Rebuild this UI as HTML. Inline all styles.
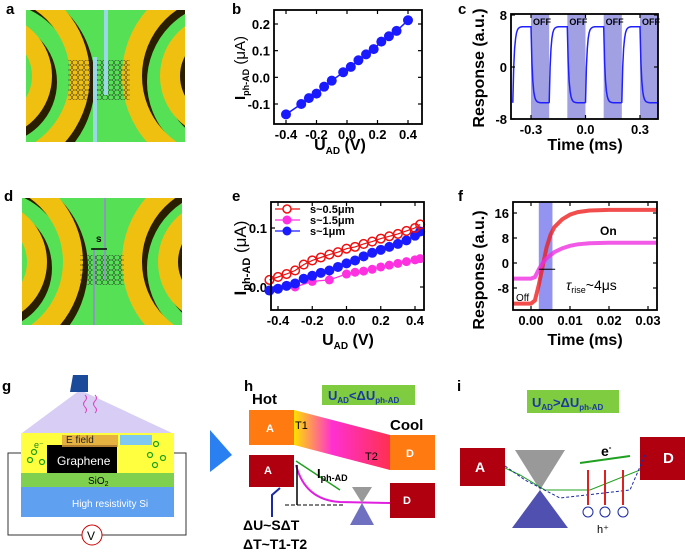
<!DOCTYPE html>
<html><head><meta charset="utf-8"><style>
body{margin:0;background:#fff}
svg{display:block;font-family:"Liberation Sans",sans-serif}
.tk{font-size:13px;font-weight:bold}
.at{font-size:16px;font-weight:bold}
.pl{font-size:15px;font-weight:bold}
</style></head><body>
<svg id="fig" width="685" height="553" viewBox="0 0 685 553">
<defs>
<clipPath id="ca"><rect x="26" y="10" width="159" height="132"/></clipPath>
<clipPath id="cd"><rect x="22" y="198" width="160" height="127"/></clipPath>
<pattern id="hex" width="6" height="5" patternUnits="userSpaceOnUse"><path d="M0 2.5 L1.5 0 L4.5 0 L6 2.5 L4.5 5 L1.5 5 Z" fill="none" stroke="#222" stroke-width="0.5"/></pattern>
<linearGradient id="tg" x1="0" x2="1"><stop offset="0" stop-color="#ffe000"/><stop offset="0.4" stop-color="#ff30d0"/><stop offset="1" stop-color="#ff3050"/></linearGradient>
</defs>

<text class="pl" x="6" y="14">a</text>
<text class="pl" x="232" y="14">b</text>
<text class="pl" x="458" y="14">c</text>
<text class="pl" x="4" y="201">d</text>
<text class="pl" x="232" y="201">e</text>
<text class="pl" x="458" y="201">f</text>
<text class="pl" x="2" y="391">g</text>
<text class="pl" x="244" y="391">h</text>
<text class="pl" x="457" y="391">i</text>

<!-- panel a -->
<g clip-path="url(#ca)">
<rect x="26" y="10" width="159" height="132" fill="#55e055"/>
<g fill="none" stroke-width="20">
<circle cx="-5" cy="82" r="90" stroke="#2a1e00"/><circle cx="-10" cy="76" r="90" stroke="#f0c010"/>
<circle cx="-5" cy="82" r="52" stroke="#2a1e00"/><circle cx="-10" cy="76" r="52" stroke="#f0c010"/>
<circle cx="227" cy="82" r="90" stroke="#2a1e00"/><circle cx="222" cy="76" r="90" stroke="#f0c010"/>
<circle cx="227" cy="82" r="52" stroke="#2a1e00"/><circle cx="222" cy="76" r="52" stroke="#f0c010"/>
</g>
<rect x="68" y="60" width="62" height="40" fill="url(#hex)"/>
<rect x="93" y="57" width="4" height="85" fill="#9ad8e8"/>
<rect x="104" y="10" width="4" height="85" fill="#9ad8e8"/>
</g>
<!-- panel d -->
<g clip-path="url(#cd)">
<rect x="22" y="198" width="160" height="127" fill="#55e055"/>
<g fill="none" stroke-width="20">
<circle cx="-10" cy="268" r="88" stroke="#2a1e00"/><circle cx="-15" cy="262" r="88" stroke="#f0c010"/>
<circle cx="-10" cy="268" r="52" stroke="#2a1e00"/><circle cx="-15" cy="262" r="52" stroke="#f0c010"/>
<circle cx="225" cy="268" r="88" stroke="#2a1e00"/><circle cx="220" cy="262" r="88" stroke="#f0c010"/>
<circle cx="225" cy="268" r="52" stroke="#2a1e00"/><circle cx="220" cy="262" r="52" stroke="#f0c010"/>
</g>
<rect x="80" y="255" width="44" height="30" fill="url(#hex)"/>
<rect x="93" y="248" width="2" height="77" fill="#8a9ab8"/>
<rect x="104" y="198" width="2" height="82" fill="#8a9ab8"/>
<text x="96" y="242" font-size="10" font-weight="bold">s</text>
<path d="M91 249 L107 249" stroke="#000" stroke-width="1.5"/>
</g>

<g id="plots"></g>

<!-- panel g -->
<g>
<polygon points="80,390 22,433 172,433" fill="#c8b8f0" opacity="0.7"/>
<path d="M73 375 L88 375 L88 392 L70 392 Z" fill="#1a4a9a"/>
<path d="M85 395 q3 3 0 6 q-3 3 0 6 q3 3 0 6" stroke="#e040c0" fill="none"/>
<path d="M95 395 q3 3 0 6 q-3 3 0 6 q3 3 0 6" stroke="#e040c0" fill="none"/>
<rect x="21" y="433" width="153" height="40" fill="#ffff40"/>
<rect x="47" y="445" width="70" height="28" fill="#000"/>
<rect x="62" y="435" width="56" height="12" fill="#e0a040" opacity="0.8"/>
<rect x="120" y="435" width="32" height="10" fill="#80c8f0"/>
<text x="66" y="443" font-size="10" fill="#222">E field</text>
<text x="57" y="465" font-size="12" fill="#fff">Graphene</text>
<text x="34" y="448" font-size="9" fill="#1a8a1a">e⁻</text>
<g fill="none" stroke="#1aa01a" stroke-width="1.2"><circle cx="34" cy="452" r="2.5"/><circle cx="30" cy="460" r="2.5"/><circle cx="42" cy="462" r="2.5"/><circle cx="156" cy="444" r="2.5"/><circle cx="150" cy="455" r="2.5"/><circle cx="163" cy="458" r="2.5"/><circle cx="155" cy="465" r="2.5"/></g>
<rect x="21" y="473" width="153" height="14" fill="#80d050"/>
<text x="88" y="484" font-size="10">SiO<tspan font-size="7" dy="2">2</tspan></text>
<rect x="21" y="487" width="153" height="30" fill="#60a0f0"/>
<text x="72" y="507" font-size="10" fill="#fff">High resistivity Si</text>
<path d="M21 453 L8 453 L8 535 L83 535 M101 535 L186 535 L186 453 L174 453" fill="none" stroke="#333"/>
<circle cx="92" cy="535" r="10" fill="#fff" stroke="#c00"/>
<text x="87" y="540" font-size="12">V</text>
<polygon points="210,430 232,455 210,472" fill="#2a80f0"/>
</g>

<!-- panel h -->
<g>
<text x="252" y="404" font-size="15" font-weight="bold">Hot</text>
<rect x="322" y="385" width="93" height="20" fill="#80cc40"/>
<text x="328" y="400" font-size="13" font-weight="bold" fill="#1a3aa0">U<tspan font-size="8" dy="3">AD</tspan><tspan dy="-3">&lt;ΔU</tspan><tspan font-size="8" dy="3">ph-AD</tspan></text>
<polygon points="294,410 390,435 390,470 294,445" fill="url(#tg)"/>
<rect x="249" y="410" width="45" height="35" fill="#ff7a10"/>
<text x="266" y="432" font-size="11" fill="#fff" font-weight="bold">A</text>
<text x="295" y="429" font-size="11">T1</text><text x="365" y="460" font-size="11">T2</text>
<text x="390" y="430" font-size="15" font-weight="bold">Cool</text>
<rect x="390" y="435" width="45" height="35" fill="#ff7a10"/>
<text x="406" y="457" font-size="11" fill="#fff" font-weight="bold">D</text>
<rect x="249" y="455" width="45" height="32" fill="#b00010"/>
<text x="264" y="474" font-size="11" fill="#fff" font-weight="bold">A</text>
<rect x="390" y="483" width="45" height="35" fill="#b00010"/>
<text x="403" y="504" font-size="11" fill="#fff" font-weight="bold">D</text>
<path d="M296 465 Q305 500 340 502 L390 503" stroke="#e020e0" stroke-width="2" fill="none"/>
<path d="M296 461 L340 490" stroke="#20a020" stroke-width="1.5"/>
<text x="317" y="478" font-size="13" font-weight="bold">I<tspan font-size="9" dy="3">ph-AD</tspan></text>
<path d="M297 465 L297 505" stroke="#000" stroke-width="1.5"/>
<path d="M285 505 L345 505" stroke="#000" stroke-dasharray="4 2"/>
<path d="M272 517 L272 495 L280 488" stroke="#1a2aa0" stroke-width="2" fill="none"/>
<polygon points="352,487 372,487 362,503" fill="#999"/>
<polygon points="362,503 350,525 374,525" fill="#7070c0"/>
<text x="243" y="530" font-size="14" font-weight="bold">ΔU~SΔT</text>
<text x="243" y="549" font-size="14" font-weight="bold">ΔT~T1-T2</text>
</g>

<!-- panel i -->
<g>
<rect x="527" y="390" width="92" height="23" fill="#80cc40"/>
<text x="532" y="407" font-size="13" font-weight="bold" fill="#1a3aa0">U<tspan font-size="8" dy="3">AD</tspan><tspan dy="-3">&gt;ΔU</tspan><tspan font-size="8" dy="3">ph-AD</tspan></text>
<rect x="460" y="448" width="45" height="38" fill="#b00010"/>
<text x="475" y="472" font-size="14" fill="#fff" font-weight="bold">A</text>
<rect x="640" y="437" width="45" height="43" fill="#b00010"/>
<text x="663" y="463" font-size="15" fill="#fff" font-weight="bold">D</text>
<polygon points="515,450 565,450 540,490" fill="#999"/>
<polygon points="540,490 512,528 568,528" fill="#5050b0"/>
<path d="M505 468 L520 475 L545 490 L590 490 L640 470" stroke="#20a020" fill="none"/>
<path d="M505 466 L525 480 L560 498 L630 490 L645 455" stroke="#1a2aa0" fill="none" stroke-dasharray="3 2"/>
<path d="M630 456 L580 463" stroke="#20a020" stroke-width="2"/>
<text x="601" y="456" font-size="14" font-weight="bold">e<tspan font-size="8" dy="-6">-</tspan></text>
<g stroke="#e02020" stroke-width="2" fill="none"><path d="M588 470 l0 35"/><path d="M605 470 l0 35"/><path d="M623 470 l0 35"/></g>
<g fill="none" stroke="#1a2aa0"><circle cx="588" cy="512" r="5"/><circle cx="605" cy="512" r="5"/><circle cx="623" cy="512" r="5"/></g>
<text x="597" y="533" font-size="11">h⁺</text>
</g>
</svg>
<script>
// ---- data ----
const bX=[-0.4,-0.3,-0.25,-0.2,-0.15,-0.1,-0.025,0.025,0.075,0.125,0.175,0.225,0.275,0.325,0.4];
const bY=[-0.139,-0.1,-0.078,-0.061,-0.035,-0.0125,0.019,0.039,0.064,0.086,0.106,0.134,0.154,0.174,0.214];
const cSwitchTimes=[-0.4,-0.3,-0.2,-0.1,0.0,0.1,0.2,0.3,0.4];
const cOnLevel=6.2, cOffLevel=-5.5;
const cOffBands=[[-0.3,-0.2],[-0.1,0.0],[0.1,0.2],[0.3,0.4]];
const eRedX=[-0.45,-0.4,-0.35,-0.3,-0.25,-0.2,-0.15,-0.1,-0.05,0,0.05,0.1,0.15,0.2,0.25,0.3,0.35,0.4,0.43];
const eRedY=[0.012,0.017,0.022,0.028,0.038,0.045,0.05,0.055,0.059,0.065,0.068,0.073,0.077,0.082,0.086,0.09,0.095,0.1,0.106];
const eBlueX=[-0.45,-0.4,-0.35,-0.3,-0.25,-0.2,-0.15,-0.1,-0.05,0,0.05,0.1,0.15,0.2,0.25,0.3,0.35,0.4,0.43];
const eBlueY=[-0.006,-0.003,0.002,0.006,0.014,0.019,0.024,0.028,0.034,0.04,0.045,0.052,0.058,0.063,0.068,0.073,0.079,0.087,0.094];
const eMagX=[-0.3,-0.2,-0.1,0,0.05,0.1,0.15,0.2,0.25,0.3,0.35,0.4,0.43];
const eMagY=[0.0,0.0095,0.012,0.022,0.025,0.027,0.03,0.034,0.037,0.04,0.043,0.046,0.048];
const fT=[-0.0046,0.0,0.001,0.002,0.003,0.004,0.005,0.006,0.008,0.01,0.012,0.015,0.02,0.025,0.0323];
const fRed=[-13,-13,-12,-7,-1,5,9,11.5,14,15.5,16.3,16.8,17,17,17];
const fMag=[-5,-5,-4.5,-2,0,1.5,2.5,3.5,4.7,5.5,6,6.3,6.5,6.5,6.5];
const fShade=[0.002,0.0055];

const NS="http://www.w3.org/2000/svg";
const root=document.getElementById('plots');
function mk(tag,attrs,parent){const e=document.createElementNS(NS,tag);for(const k in attrs)e.setAttribute(k,attrs[k]);(parent||root).appendChild(e);return e;}
function scale(d0,d1,r0,r1){return v=>r0+(v-d0)*(r1-r0)/(d1-d0);}
function axes(g,box,sx,sy,xt,xl,yt,yl){
  xt.forEach((v,i)=>{const x=sx(v);mk('line',{x1:x,x2:x,y1:box.y+box.h,y2:box.y+box.h-4,stroke:'#000','stroke-width':1.2},g);mk('line',{x1:x,x2:x,y1:box.y,y2:box.y+4,stroke:'#000','stroke-width':1.2},g);
    const t=mk('text',{x:x,y:box.y+box.h+15,'text-anchor':'middle',class:'tk'},g);t.textContent=xl[i];
    
    });
  yt.forEach((v,i)=>{const y=sy(v);mk('line',{x1:box.x,x2:box.x+4,y1:y,y2:y,stroke:'#000','stroke-width':1.2},g);mk('line',{x1:box.x+box.w,x2:box.x+box.w-4,y1:y,y2:y,stroke:'#000','stroke-width':1.2},g);
    const t=mk('text',{x:box.x-4,y:y+5,'text-anchor':'end',class:'tk'},g);t.textContent=yl[i];
    
    });
}
function frame(g,box){const r=mk('rect',{x:box.x,y:box.y,width:box.w,height:box.h,fill:'none',stroke:'#000','stroke-width':1.8},g);
  
  }
function line(g,xs,ys,sx,sy,attrs){const d=xs.map((v,i)=>(i?'L':'M')+sx(v).toFixed(1)+' '+sy(ys[i]).toFixed(1)).join(' ');const p=mk('path',Object.assign({d:d,fill:'none'},attrs),g);return p;}

// panel b
{const g=mk('g',{});
const box={x:274,y:10,w:148,h:114};const sx=scale(-0.4,0.4,286,408),sy=scale(-0.1,0.2,104,24);
axes(g,box,sx,sy,[-0.4,-0.2,0,0.2,0.4],['-0.4','-0.2','0.0','0.2','0.4'],[-0.1,0,0.1,0.2],['-0.1','0.0','0.1','0.2']);
line(g,bX,bY,sx,sy,{stroke:'#1a1aff','stroke-width':1.5});
bX.forEach((v,i)=>{const c=mk('circle',{cx:sx(v),cy:sy(bY[i]),r:5,fill:'#1a1aff'},g);

});
frame(g,box);
const t=mk('text',{x:340,y:150,'text-anchor':'middle',class:'at'},g);t.innerHTML='U<tspan font-size="10" dy="4">AD</tspan><tspan dy="-4"> (V)</tspan>';


const y=mk('text',{transform:'translate(245,68) rotate(-90)','text-anchor':'middle','font-size':15,'font-weight':'bold'},g);y.innerHTML='I<tspan font-size="9" dy="4">ph-AD</tspan><tspan dy="-4" font-weight="normal"> (μA)</tspan>';

}

// panel c
{const g=mk('g',{});
const box={x:511,y:14,w:147,h:105};const sx=scale(-0.3,0.3,531,640),sy=scale(-8,8,119,15);
cOffBands.forEach(b=>{const x0=sx(b[0]),x1=Math.min(sx(b[1]),box.x+box.w);const r=mk('rect',{x:x0,y:box.y,width:x1-x0,height:box.h,fill:'#8080d8',opacity:0.75},g);


const t=mk('text',{x:x0+2,y:box.y+11,'font-size':9,'font-weight':'bold'},g);t.textContent='OFF';

});
const xs=[],ys=[];
for(let k=0;k<cSwitchTimes.length-1;k++){const t0=cSwitchTimes[k],t1=cSwitchTimes[k+1];const on=k%2===0;const from=on?cOffLevel:cOnLevel,to=on?cOnLevel:cOffLevel;
 for(let j=0;j<=20;j++){const t=t0+(t1-t0)*j/20;xs.push(t);ys.push(to+(from-to)*Math.exp(-(t-t0)/0.008));}}
const p=line(g,xs,ys,v=>Math.max(box.x,Math.min(box.x+box.w,sx(v))),sy,{stroke:'#2020ff','stroke-width':1.5});


axes(g,box,sx,sy,[-0.3,0,0.3],['-0.3','0.0','0.3'],[-8,0,8],['-8','0','8']);
frame(g,box);
const t=mk('text',{x:585,y:150,'text-anchor':'middle',class:'at'},g);t.textContent='Time (ms)';


const y=mk('text',{transform:'translate(484,68) rotate(-90)','text-anchor':'middle',class:'at'},g);y.textContent='Response (a.u.)';

}

// panel e
{const g=mk('g',{});
const box={x:271,y:202,w:153,h:108};const sx=scale(-0.4,0.4,278,415),sy=scale(0,0.1,287,228);
axes(g,box,sx,sy,[-0.4,-0.2,0,0.2,0.4],['-0.4','-0.2','0.0','0.2','0.4'],[0,0.1],['0.0','0.1']);
const ser=[[eMagX,eMagY,'#ff30e0','pent'],[eBlueX,eBlueY,'#1a1aff','dot'],[eRedX,eRedY,'#ee1010','open']];
ser.forEach(s=>{line(g,s[0],s[1],sx,sy,{stroke:s[2],'stroke-width':1.2});
 s[0].forEach((v,i)=>{let c;if(s[3]==='open')c=mk('circle',{cx:sx(v),cy:sy(s[1][i]),r:4.3,fill:'none',stroke:s[2],'stroke-width':1.5},g);
 else c=mk('circle',{cx:sx(v),cy:sy(s[1][i]),r:s[3]==='dot'?5:4.5,fill:s[2]},g);
 
 });});
const lg=[['s~0.5μm','#ee1010','open'],['s~1.5μm','#ff30e0','f'],['s~1μm','#1a1aff','f']];
lg.forEach((l,i)=>{const y=209+i*11;mk('line',{x1:275,x2:300,y1:y,y2:y,stroke:l[1],'stroke-width':1.2},g);
 mk('circle',l[2]==='open'?{cx:287,cy:y,r:4,fill:'#fff',stroke:l[1],'stroke-width':1.5}:{cx:287,cy:y,r:4.5,fill:l[1]},g);
 const t=mk('text',{x:310,y:y+4,'font-size':11,'font-weight':'bold'},g);t.textContent=l[0];
 
 });
frame(g,box);
const t=mk('text',{x:348,y:345,'text-anchor':'middle',class:'at'},g);t.innerHTML='U<tspan font-size="10" dy="4">AD</tspan><tspan dy="-4"> (V)</tspan>';


const y=mk('text',{transform:'translate(246,258) rotate(-90)','text-anchor':'middle','font-size':17,'font-weight':'bold'},g);y.innerHTML='I<tspan font-size="11" dy="4">ph-AD</tspan><tspan dy="-4" font-weight="normal"> (μA)</tspan>';

}

// panel f
{const g=mk('g',{});
const box={x:513,y:202,w:144,h:108};const sx=scale(0,0.03,531,648),sy=scale(-8,16,288,213);
const r=mk('rect',{x:sx(fShade[0]),y:box.y,width:sx(fShade[1])-sx(fShade[0]),height:box.h,fill:'#8080ee',opacity:0.85},g);


const pr=line(g,fT,fRed,sx,sy,{stroke:'#ee2020','stroke-width':4,opacity:0.8});


const pm=line(g,fT,fMag,sx,sy,{stroke:'#ee30e0','stroke-width':4,opacity:0.8});


mk('path',{d:`M${sx(0.002)} ${sy(-2)} L${sx(0.0062)} ${sy(-2)}`,stroke:'#000','stroke-width':1},g);
axes(g,box,sx,sy,[0,0.01,0.02,0.03],['0.00','0.01','0.02','0.03'],[-8,0,8,16],['-8','0','8','16']);
frame(g,box);
const o=mk('text',{x:516,y:301,'font-size':10},g);o.textContent='Off';
const on=mk('text',{x:600,y:235,'font-size':12,'font-weight':'bold'},g);on.textContent='On';
const tr=mk('text',{x:566,y:290,'font-size':14},g);tr.innerHTML='<tspan font-style="italic">τ</tspan><tspan font-size="9" dy="3">rise</tspan><tspan dy="-3">~4μs</tspan>';


const t=mk('text',{x:585,y:345,'text-anchor':'middle',class:'at'},g);t.textContent='Time (ms)';


const y=mk('text',{transform:'translate(484,270) rotate(-90)','text-anchor':'middle',class:'at'},g);y.textContent='Response (a.u.)';

}
</script>
</body></html>
